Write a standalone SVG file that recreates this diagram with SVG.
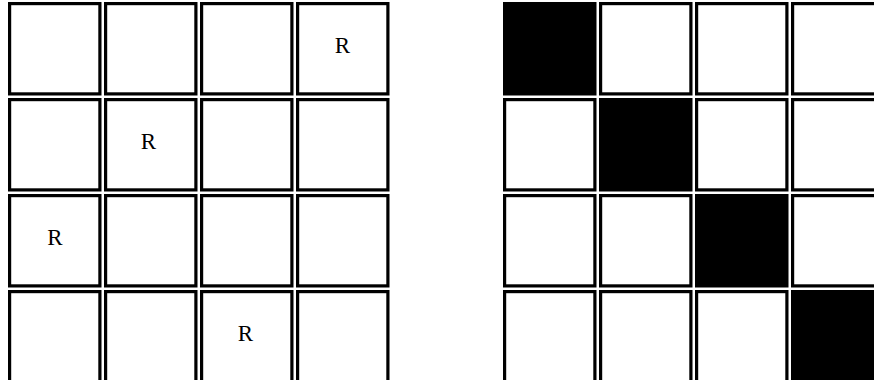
<svg xmlns="http://www.w3.org/2000/svg" width="874" height="380" viewBox="0 0 874 380">
<style>
.c{fill:#fff;stroke:#000;stroke-width:3.2}
.b{fill:#000;stroke:#000;stroke-width:3.2}
.t{font-family:"Liberation Serif","DejaVu Serif",serif;font-size:23px;fill:#000;text-anchor:middle}
</style>
<defs>
<rect id="cell" x="1.6" y="1.6" width="90.3" height="90.3"/>
</defs>
<rect width="874" height="380" fill="#fff"/>
<g id="left-grid">
<g id="L00"><use href="#cell" class="c" x="8" y="2"/></g>
<g id="L01"><use href="#cell" class="c" x="104" y="2"/></g>
<g id="L02"><use href="#cell" class="c" x="200" y="2"/></g>
<g id="L03"><use href="#cell" class="c" x="296" y="2"/><text class="t" x="342.5" y="53">R</text></g>
<g id="L10"><use href="#cell" class="c" x="8" y="98"/></g>
<g id="L11"><use href="#cell" class="c" x="104" y="98"/><text class="t" x="148.5" y="149">R</text></g>
<g id="L12"><use href="#cell" class="c" x="200" y="98"/></g>
<g id="L13"><use href="#cell" class="c" x="296" y="98"/></g>
<g id="L20"><use href="#cell" class="c" x="8" y="194"/><text class="t" x="55" y="245">R</text></g>
<g id="L21"><use href="#cell" class="c" x="104" y="194"/></g>
<g id="L22"><use href="#cell" class="c" x="200" y="194"/></g>
<g id="L23"><use href="#cell" class="c" x="296" y="194"/></g>
<g id="L30"><use href="#cell" class="c" x="8" y="290"/></g>
<g id="L31"><use href="#cell" class="c" x="104" y="290"/></g>
<g id="L32"><use href="#cell" class="c" x="200" y="290"/><text class="t" x="245.5" y="341">R</text></g>
<g id="L33"><use href="#cell" class="c" x="296" y="290"/></g>
</g>
<g id="right-grid">
<g id="R00"><use href="#cell" class="b" x="503" y="2"/></g>
<g id="R01"><use href="#cell" class="c" x="599" y="2"/></g>
<g id="R02"><use href="#cell" class="c" x="695" y="2"/></g>
<g id="R03"><use href="#cell" class="c" x="791" y="2"/></g>
<g id="R10"><use href="#cell" class="c" x="503" y="98"/></g>
<g id="R11"><use href="#cell" class="b" x="599" y="98"/></g>
<g id="R12"><use href="#cell" class="c" x="695" y="98"/></g>
<g id="R13"><use href="#cell" class="c" x="791" y="98"/></g>
<g id="R20"><use href="#cell" class="c" x="503" y="194"/></g>
<g id="R21"><use href="#cell" class="c" x="599" y="194"/></g>
<g id="R22"><use href="#cell" class="b" x="695" y="194"/></g>
<g id="R23"><use href="#cell" class="c" x="791" y="194"/></g>
<g id="R30"><use href="#cell" class="c" x="503" y="290"/></g>
<g id="R31"><use href="#cell" class="c" x="599" y="290"/></g>
<g id="R32"><use href="#cell" class="c" x="695" y="290"/></g>
<g id="R33"><use href="#cell" class="b" x="791" y="290"/></g>
</g>
<g id="connectors"/>
</svg>
